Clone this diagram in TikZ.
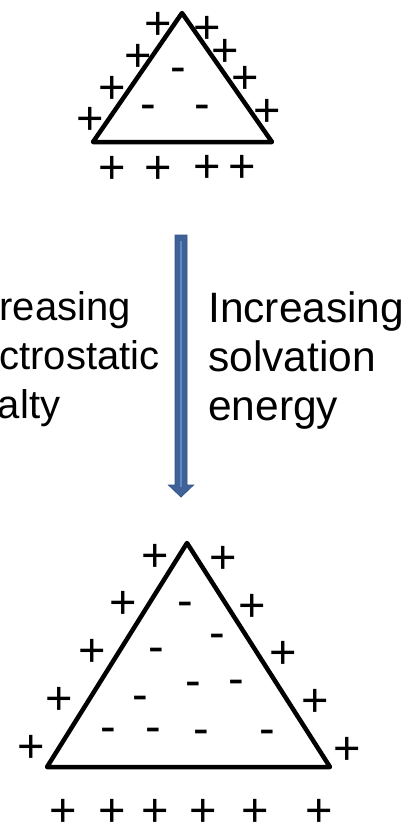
\documentclass[tikz,border=0pt]{standalone}
\usepackage{fontspec}
\usepackage{tikz}
\usetikzlibrary{calc,positioning}
\newfontfamily\arialfont{Liberation Sans}
\newcommand{\chgfont}{\arialfont\fontsize{47}{52}\selectfont}
\newcommand{\lefttxtfont}{\arialfont\fontsize{40}{49}\selectfont}
\newcommand{\righttxtfont}{\arialfont\fontsize{42.5}{49}\selectfont}
\definecolor{arrowblue}{RGB}{63,99,153}
\definecolor{arrowedge}{RGB}{50,83,133}
\definecolor{arrowlight}{RGB}{95,137,197}
\tikzset{
  poschg/.style={font=\chgfont, inner sep=0, anchor=base, yshift=-16.5pt},
  negchg/.style={font=\chgfont, inner sep=0, anchor=base, yshift=-12.6pt},
  lefttxt/.style={font=\lefttxtfont, inner sep=0, anchor=base west},
  sidelabel/.style={font=\righttxtfont, inner sep=0, anchor=north west, align=left}
}

\begin{document}
\begin{tikzpicture}[x=1pt,y=-1pt]
        \useasboundingbox (0,0) rectangle (414,836);
        \clip (0,0) rectangle (414,836);
        % Draw the small triangle
        \coordinate (ta) at (182,13);
        \coordinate (tl) at (93,142);
        \coordinate (tr) at (272,142);
        \draw[line width=4.5pt, line join=round] (ta) -- (tl) -- (tr) -- cycle;
        \foreach \x/\y [count=\i] in {158/23, 207/27, 138/55, 225/50, 112/87, 245/77, 90/118, 267/110,
                                      112/167, 158/167, 207/166, 242/166}
          \node[poschg] (tp\i) at (\x,\y) {+};
        \foreach \x/\y [count=\i] in {178/70, 148/107, 202/107}
          \node[negchg] (tm\i) at (\x,\y) {-};
        % Block arrow between the two
        \coordinate (arrtop) at (181,235);
        \coordinate (arrtip) at (181,497);
        \filldraw[fill=arrowblue, draw=arrowedge, line width=0.8pt]
          ($(arrtop)+(-6,0)$) -- ($(arrtop)+(6,0)$) -- ($(arrtip)+(6,-12)$) -- ($(arrtip)+(12.5,-12)$)
          -- (arrtip) -- ($(arrtip)+(-12.5,-12)$) -- ($(arrtip)+(-6,-12)$) -- cycle;
        \draw[arrowlight, line width=2pt] ($(arrtop)+(0,6)$) -- ($(arrtip)+(0,-10)$);
        % Labels on both sides
        \node[lefttxt] (pen1) at (-54,320) {Increasing};
        \node[lefttxt] (pen2) at (-54,369) {electrostatic};
        \node[lefttxt] (pen3) at (-69,418) {penalty};
        \node[sidelabel] (solv) at (208,291) {Increasing\\solvation\\energy};
        % Draw the large triangle
        \coordinate (ba) at (187,543);
        \coordinate (bl) at (47,767);
        \coordinate (br) at (330,767);
        \draw[line width=4.5pt, line join=round] (ba) -- (bl) -- (br) -- cycle;
        \foreach \x/\y [count=\i] in {155/555, 223/557, 123/602, 252/605, 92/650, 283/652, 59/698, 315/700,
                                      31/746, 347/748, 63/810, 112/810, 155/810, 203/810, 255/810, 319/810}
          \node[poschg] (bp\i) at (\x,\y) {+};
        \foreach \x/\y [count=\i] in {185/604, 217/636, 156/650, 193/684, 236/682, 140/698,
                                      108/730, 153/730, 201/732, 267/732}
          \node[negchg] (bm\i) at (\x,\y) {-};
      \end{tikzpicture}
\end{document}
